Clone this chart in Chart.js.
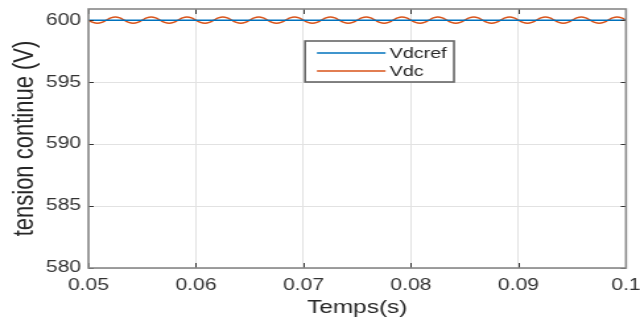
<!DOCTYPE html>
<html>
<head>
<meta charset="utf-8">
<script src="https://cdn.jsdelivr.net/npm/chart.js@4/dist/chart.umd.min.js"></script>
<style>
  html, body { margin: 0; padding: 0; background: #ffffff; overflow: hidden; }
  #wrap { width: 640px; height: 322px; }
  /* The figure is rendered on a narrower canvas and widened to 640px for display */
  #c { display: block; }
</style>
</head>
<body>
<div id="wrap"><canvas id="c" width="485" height="322" style="width:640px;height:322px;"></canvas></div>
<script>
// Time window and sampling grid of the recorded signals (s)
const tStart = 0.05;
const tStep = 0.05 / 120;

// DC-link voltage reference (V), held constant over the window
const vdcrefTimes = [0.05, 0.1];
const vdcrefValues = [600, 600];

// Measured DC-link voltage (V), one sample per tStep
const vdcValues = [
  600.00, 599.82, 599.75, 599.82, 600.00, 600.18, 600.25, 600.18,
  600.00, 599.82, 599.75, 599.82, 600.00, 600.18, 600.25, 600.18,
  600.00, 599.82, 599.75, 599.82, 600.00, 600.18, 600.25, 600.18,
  600.00, 599.82, 599.75, 599.82, 600.00, 600.18, 600.25, 600.18,
  600.00, 599.82, 599.75, 599.82, 600.00, 600.18, 600.25, 600.18,
  600.00, 599.82, 599.75, 599.82, 600.00, 600.18, 600.25, 600.18,
  600.00, 599.82, 599.75, 599.82, 600.00, 600.18, 600.25, 600.18,
  600.00, 599.82, 599.75, 599.82, 600.00, 600.18, 600.25, 600.18,
  600.00, 599.82, 599.75, 599.82, 600.00, 600.18, 600.25, 600.18,
  600.00, 599.82, 599.75, 599.82, 600.00, 600.18, 600.25, 600.18,
  600.00, 599.82, 599.75, 599.82, 600.00, 600.18, 600.25, 600.18,
  600.00, 599.82, 599.75, 599.82, 600.00, 600.18, 600.25, 600.18,
  600.00, 599.82, 599.75, 599.82, 600.00, 600.18, 600.25, 600.18,
  600.00, 599.82, 599.75, 599.82, 600.00, 600.18, 600.25, 600.18,
  600.00, 599.82, 599.75, 599.82, 600.00, 600.18, 600.25, 600.18,
  600.00
];

// Axis ticks and their labels
const xTicks = [0.05, 0.06, 0.07, 0.08, 0.09, 0.1];
const xTickLabels = ['0.05', '0.06', '0.07', '0.08', '0.09', '0.1'];
const yTicks = [580, 585, 590, 595, 600];
const yTickLabels = ['580', '585', '590', '595', '600'];

const seriesNames = ['Vdcref', 'Vdc'];
const seriesColors = ['#0072BD', '#D95319'];

const vdcrefPoints = vdcrefTimes.map((t, i) => ({ x: t, y: vdcrefValues[i] }));
const vdcPoints = vdcValues.map((v, i) => ({ x: tStart + i * tStep, y: v }));

const FONT = '"Liberation Sans", Arial, Helvetica, sans-serif';

// Axes box with inward tick marks, drawn over the plot
const boxPlugin = {
  id: 'axesBox',
  afterDatasetsDraw(chart) {
    const { ctx, chartArea: a, scales } = chart;
    ctx.save();
    ctx.strokeStyle = '#333333';
    ctx.lineWidth = 1;
    ctx.beginPath();
    xTicks.forEach(v => {
      const px = Math.round(scales.x.getPixelForValue(v)) + 0.5;
      ctx.moveTo(px, a.bottom); ctx.lineTo(px, a.bottom - 5);
      ctx.moveTo(px, a.top); ctx.lineTo(px, a.top + 5);
    });
    yTicks.forEach(v => {
      const py = Math.round(scales.y.getPixelForValue(v)) + 0.5;
      ctx.moveTo(a.left, py); ctx.lineTo(a.left + 4, py);
      ctx.moveTo(a.right, py); ctx.lineTo(a.right - 4, py);
    });
    ctx.stroke();
    ctx.strokeStyle = '#888888';
    ctx.lineWidth = 1.6;
    ctx.strokeRect(a.left, a.top, a.right - a.left, a.bottom - a.top);
    ctx.restore();
  }
};

// Boxed legend placed inside the axes
const legendBoxPlugin = {
  id: 'legendBox',
  afterDraw(chart) {
    const { ctx, chartArea: a } = chart;
    const w = a.right - a.left;
    const x0 = a.left + 0.403 * w;
    const x1 = a.left + 0.680 * w;
    const y0 = a.top + 32;
    const y1 = a.top + 73;
    ctx.save();
    ctx.fillStyle = '#ffffff';
    ctx.fillRect(x0, y0, x1 - x0, y1 - y0);
    ctx.strokeStyle = '#666666';
    ctx.lineWidth = 1.6;
    ctx.strokeRect(x0, y0, x1 - x0, y1 - y0);
    ctx.font = '15px ' + FONT;
    ctx.textBaseline = 'middle';
    ctx.textAlign = 'left';
    chart.data.datasets.forEach((ds, i) => {
      const y = y0 + 12 + i * 18;
      ctx.strokeStyle = ds.borderColor;
      ctx.lineWidth = 1.5;
      ctx.beginPath();
      ctx.moveTo(x0 + 9, y);
      ctx.lineTo(x0 + 61, y);
      ctx.stroke();
      ctx.fillStyle = '#262626';
      ctx.fillText(ds.label, x0 + 64, y + 1);
    });
    ctx.restore();
  }
};

new Chart(document.getElementById('c'), {
  type: 'line',
  data: {
    datasets: [
      { label: seriesNames[0], data: vdcrefPoints, borderColor: seriesColors[0],
        borderWidth: 1.5, pointRadius: 0, tension: 0, fill: false },
      { label: seriesNames[1], data: vdcPoints, borderColor: seriesColors[1],
        borderWidth: 1.5, pointRadius: 0, tension: 0.4, fill: false }
    ]
  },
  options: {
    responsive: false,
    animation: false,
    devicePixelRatio: 1,
    layout: { padding: { left: 0, right: 10.6, top: 9, bottom: 0 } },
    plugins: { legend: { display: false }, tooltip: { enabled: false } },
    scales: {
      x: {
        type: 'linear',
        min: 0.05, max: 0.1,
        afterBuildTicks: s => { s.ticks = xTicks.map(v => ({ value: v })); },
        afterFit: s => { s.height = 54; s.paddingLeft = 0; s.paddingRight = 0; },
        grid: { color: '#e2e2e2', lineWidth: 1, drawTicks: false },
        border: { display: false },
        ticks: {
          padding: 8, color: '#333333', maxRotation: 0, autoSkip: false,
          font: { family: FONT, size: 16 },
          callback: (v) => xTickLabels[xTicks.findIndex(t => Math.abs(t - v) < 1e-9)]
        },
        title: { display: true, text: 'Temps(s)', color: '#262626', padding: { top: 0, bottom: 3 },
          font: { family: FONT, size: 18.5 } }
      },
      y: {
        type: 'linear',
        min: 580, max: 600.9,
        afterBuildTicks: s => { s.ticks = yTicks.map(v => ({ value: v })); },
        afterFit: s => { s.width = 67; s.paddingTop = 0; s.paddingBottom = 0; },
        grid: { color: '#e2e2e2', lineWidth: 1, drawTicks: false },
        border: { display: false },
        ticks: {
          padding: 5.5, color: '#333333', autoSkip: false,
          font: { family: FONT, size: 16 },
          callback: (v) => yTickLabels[yTicks.indexOf(v)]
        },
        title: { display: true, text: 'tension continue (V)', color: '#262626', padding: { top: 6, bottom: 0 },
          font: { family: FONT, size: 22 } }
      }
    }
  },
  plugins: [boxPlugin, legendBoxPlugin]
});
</script>
</body>
</html>
